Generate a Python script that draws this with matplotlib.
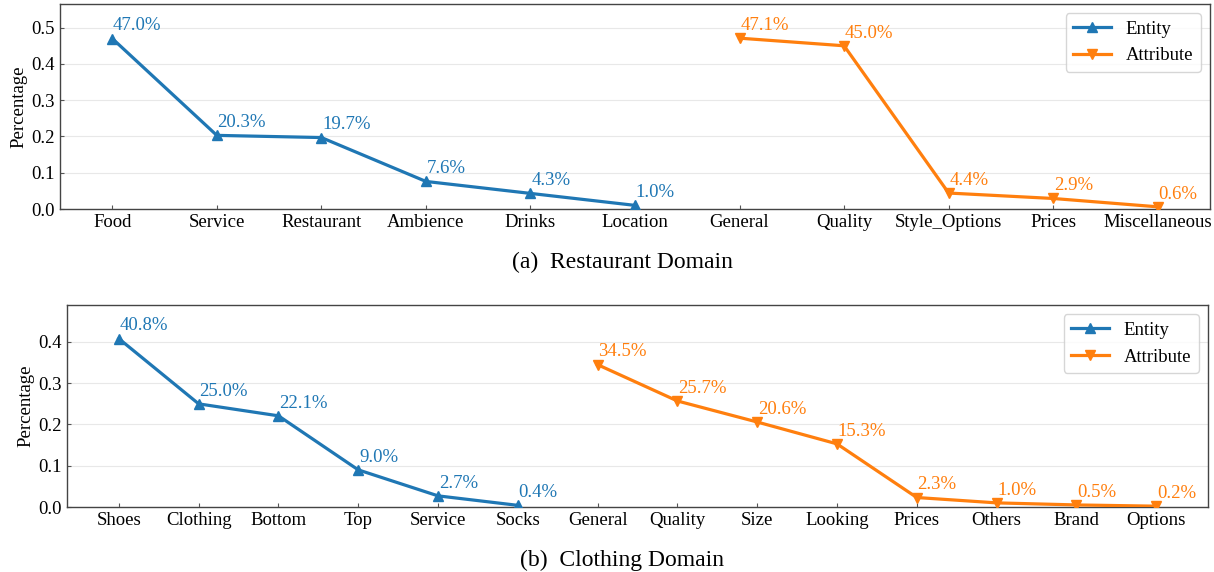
import numpy as np
import matplotlib
matplotlib.use("Agg")
import matplotlib.pyplot as plt
from matplotlib.ticker import MultipleLocator

plt.rcParams['font.family'] = ['Liberation Serif', 'DejaVu Serif']

# datos (a) restaurante
rest_ent_labels = ['Food', 'Service', 'Restaurant', 'Ambience', 'Drinks', 'Location']
rest_ent_vals = [0.470, 0.203, 0.197, 0.076, 0.043, 0.010]
rest_att_labels = ['General', 'Quality', 'Style_Options', 'Prices', 'Miscellaneous']
rest_att_vals = [0.471, 0.450, 0.044, 0.029, 0.006]

# datos (b) ropa
cloth_ent_labels = ['Shoes', 'Clothing', 'Bottom', 'Top', 'Service', 'Socks']
cloth_ent_vals = [0.408, 0.250, 0.221, 0.090, 0.027, 0.004]
cloth_att_labels = ['General', 'Quality', 'Size', 'Looking', 'Prices', 'Others', 'Brand', 'Options']
cloth_att_vals = [0.345, 0.257, 0.206, 0.153, 0.023, 0.010, 0.005, 0.002]

AZUL = '#1f77b4'
NARANJA = '#ff7f0e'
FS = 13.5


def panel(ax, ent_lab, ent_val, att_lab, att_val, titulo, xcap):
    n_ent = len(ent_lab)
    x_ent = np.arange(n_ent)
    x_att = np.arange(n_ent, n_ent + len(att_lab))
    ax.plot(x_ent, ent_val, color=AZUL, marker='^', lw=2.3, ms=6.5, label='Entity', zorder=3)
    ax.plot(x_att, att_val, color=NARANJA, marker='v', lw=2.3, ms=6.5, label='Attribute', zorder=3)
    for xs, vs, c in ((x_ent, ent_val, AZUL), (x_att, att_val, NARANJA)):
        for x, v in zip(xs, vs):
            ax.annotate(f'{v * 100:.1f}%', (x, v), xytext=(0.5, 3), textcoords='offset points',
                        ha='left', va='bottom', color=c, fontsize=FS)
    ax.set_xticks(np.concatenate([x_ent, x_att]))
    ax.set_xticklabels(ent_lab + att_lab, fontsize=FS)
    ax.set_ylim(0, max(ent_val + att_val) * 1.2)
    ax.yaxis.set_major_locator(MultipleLocator(0.1))
    ax.tick_params(direction='in', length=3, labelsize=FS, color='#555555')
    ax.yaxis.grid(True, color='#e8e8e8', lw=0.8)
    ax.set_axisbelow(True)
    for s in ax.spines.values():
        s.set_color('#444444')
        s.set_linewidth(1.0)
    ax.set_ylabel('Percentage', fontsize=FS, labelpad=3)
    ax.set_xlabel(titulo, fontsize=17, labelpad=15)
    ax.xaxis.label.set_x(xcap)
    leg = ax.legend(loc='upper right', fontsize=FS, frameon=True, handlelength=2.0)
    leg.get_frame().set_edgecolor('#cccccc')


fig = plt.figure(figsize=(12.14, 5.72), dpi=100)
ax1 = fig.add_axes([60 / 1214, 1 - 209 / 572, 1150 / 1214, 205 / 572])
ax2 = fig.add_axes([67 / 1214, 1 - 507 / 572, 1141 / 1214, 202 / 572])

panel(ax1, rest_ent_labels, rest_ent_vals, rest_att_labels, rest_att_vals,
      '(a)  Restaurant Domain', 0.489)
panel(ax2, cloth_ent_labels, cloth_ent_vals, cloth_att_labels, cloth_att_vals,
      '(b)  Clothing Domain', 0.486)

fig.savefig('out.png', dpi=100)
